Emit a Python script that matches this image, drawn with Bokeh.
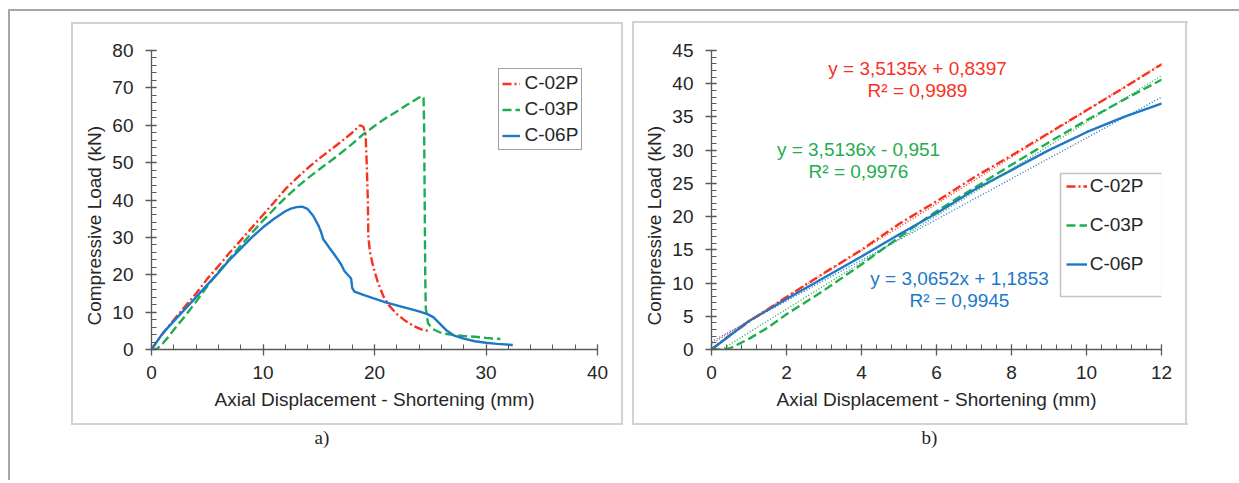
from bokeh.plotting import figure
from bokeh.models import Range1d, SingleIntervalTicker, Label, BoxAnnotation, Legend, LegendItem, Title
from bokeh.layouts import row
from bokeh.embed import file_html
from bokeh.resources import INLINE

# ---------------- data ----------------
series_names = ["C-02P", "C-03P", "C-06P"]

c02p_x = [0, 0.5, 1, 2, 3, 4, 5, 6, 7, 8, 9, 10, 11, 12, 13, 14, 15, 16, 17, 18, 18.7, 19.0, 19.2,
          19.3, 19.4, 19.45, 19.6, 19.9, 20.3, 20.8, 21.3, 22.0, 22.8, 23.5, 24.2, 24.8]
c02p_y = [0, 2.2, 4.2, 7.9, 11.5, 15.0, 18.9, 22.3, 25.9, 29.2, 32.6, 36.0, 39.4, 42.9, 45.8, 48.5,
          51.0, 53.3, 55.6, 58.0, 60.0, 59.6, 57.5, 50.0, 40.0, 30.0, 26.0, 22.0, 18.0, 14.2, 11.8,
          9.5, 7.6, 6.3, 5.4, 5.0]

c03p_x = [0, 0.3, 0.5, 1, 1.5, 2, 3, 4, 5, 6, 7, 8, 9, 10, 11, 12, 13, 14, 15, 16, 17, 18, 19, 20,
          21, 22, 23, 24, 24.2, 24.4, 24.45, 24.5, 24.55, 24.6, 24.8, 25.2, 26, 27, 28, 29, 30, 31.3]
c03p_y = [0, 0, 0.2, 1.6, 3.3, 5.3, 8.9, 12.8, 16.9, 20.8, 24.3, 27.8, 31.2, 34.5, 37.6, 40.6, 43.3,
          45.8, 48.1, 50.3, 52.6, 55.0, 57.6, 59.8, 61.9, 63.7, 65.6, 67.4, 67.9, 67.3, 60.0, 40.0,
          20.0, 11.0, 7.0, 5.5, 4.4, 3.9, 3.6, 3.4, 3.1, 2.8]

c06p_x = [0, 1, 2, 3, 4, 5, 6, 7, 8, 9, 10, 11, 12, 12.5, 13, 13.5, 14, 14.5, 15, 15.2, 15.4, 15.7,
          16, 16.5, 17, 17.3, 17.6, 17.9, 18.0, 18.2, 19, 20, 21, 22, 23, 24, 24.8, 25.3, 25.9, 26.5,
          27.1, 28, 29, 30, 31, 32.4]
c06p_y = [0, 4.3, 7.6, 10.8, 14.0, 17.3, 20.5, 24.0, 27.0, 30.0, 32.7, 35.0, 37.0, 37.7, 38.1, 38.2,
          37.6, 35.8, 33.0, 31.5, 29.5, 28.3, 27.0, 25.0, 22.8, 21.0, 20.0, 19.0, 16.5, 15.5, 14.6,
          13.6, 12.6, 11.8, 11.0, 10.2, 9.4, 8.6, 6.8, 5.0, 3.8, 2.9, 2.2, 1.8, 1.5, 1.2]

# linear trend lines (panel b), end points at x = 0 and x = 12
trend_x = [0, 12]
trend_c02p = [0.8397, 43.0017]
trend_c03p = [-0.951, 41.2122]
trend_c06p = [1.1853, 37.9677]

eq_texts = ["y = 3,5135x + 0,8397", "y = 3,5136x - 0,951", "y = 3,0652x + 1,1853"]
r2_texts = ["R² = 0,9989", "R² = 0,9976", "R² = 0,9945"]

x_title = "Axial Displacement - Shortening (mm)"
y_title = "Compressive Load (kN)"
captions = ["a)", "b)"]

# ---------------- style ----------------
RED, GREEN, BLUE = "#F8321F", "#1FAD4E", "#1E78C8"
AX = "#595959"
TXT = "#262626"
FONT = "Liberation Sans"
FS = "19px"
H = 480
FRAME_C = "#a6a6a6"
BOX_C = "#d2d2d2"


def bg_layers(rects):
    parts = []
    for (x, y, w, h, c) in rects:
        parts.append(f"linear-gradient({c},{c}) {x}px {y}px / {w}px {h}px no-repeat")
    return ", ".join(parts)


def make_fig(width, xr, yr, x_int, y_int, mb_left, mb_right, rects, cap, cap_offset):
    p = figure(width=width, height=H, x_range=Range1d(*xr), y_range=Range1d(*yr),
               output_backend="svg", toolbar_location=None,
               min_border_left=mb_left, min_border_right=mb_right,
               min_border_top=50, min_border_bottom=H - 349,
               styles={"background": bg_layers(rects)})
    p.outline_line_color = None
    p.grid.visible = False
    p.border_fill_color = None
    p.border_fill_alpha = 0.0
    p.background_fill_color = "white"
    p.xaxis.ticker = SingleIntervalTicker(interval=x_int, num_minor_ticks=5)
    p.yaxis.ticker = SingleIntervalTicker(interval=y_int, num_minor_ticks=5)
    for ax in (p.xaxis, p.yaxis):
        ax.axis_line_color = AX
        ax.axis_line_width = 1.3
        ax.major_tick_line_color = AX
        ax.minor_tick_line_color = AX
        ax.major_tick_line_width = 1.3
        ax.minor_tick_line_width = 1.0
        ax.major_tick_in = 5
        ax.major_tick_out = 6
        ax.minor_tick_in = 5
        ax.minor_tick_out = 0
        ax.major_label_text_font = FONT
        ax.major_label_text_font_size = FS
        ax.major_label_text_color = TXT
    p.xaxis.major_label_standoff = 10
    p.yaxis.major_label_standoff = 12
    p.xaxis.axis_label = x_title
    p.xaxis.axis_label_text_font = FONT
    p.xaxis.axis_label_text_font_size = FS
    p.xaxis.axis_label_text_font_style = "normal"
    p.xaxis.axis_label_text_color = TXT
    p.xaxis.axis_label_standoff = 7
    # y title as a side title so that it can be shifted along the axis like the reference
    p.add_layout(Title(text=y_title, align="left", offset=24, standoff=10,
                       text_font=FONT, text_font_size=FS, text_font_style="normal",
                       text_color=TXT), "left")
    p.add_layout(Title(text=cap, align="left", offset=cap_offset, standoff=24,
                       text_font="Liberation Serif", text_font_size="19px",
                       text_font_style="normal", text_color=TXT), "below")
    return p


def cv_label(p, x, y, text, color=TXT):
    p.add_layout(Label(x=x, y=y, x_units="canvas", y_units="canvas", text=text,
                       text_font=FONT, text_font_size=FS, text_color=color,
                       text_align="center", text_baseline="middle"))


# ---------------- panel a (canvas origin = page 0,0) ----------------
rects_a = [(8, 9, 619, 2, FRAME_C), (8, 9, 2, 471, FRAME_C),
           (71, 22, 552, 2, BOX_C), (71, 423, 552, 2, BOX_C),
           (71, 22, 2, 403, BOX_C), (621, 22, 2, 403, BOX_C)]
pa = make_fig(627, (0, 40), (0, 80), 10, 10, 151, 30, rects_a, captions[0], 163)
ra1 = pa.line(c02p_x, c02p_y, line_color=RED, line_width=2.4, line_dash="9 3 2 3")
ra2 = pa.line(c03p_x, c03p_y, line_color=GREEN, line_width=2.4, line_dash="9 4")
ra3 = pa.line(c06p_x, c06p_y, line_color=BLUE, line_width=2.4)
leg_a = Legend(items=[LegendItem(label=n, renderers=[r]) for n, r in zip(series_names, [ra1, ra2, ra3])],
               location=(346.5, 199), padding=3, spacing=4, margin=0,
               glyph_width=18, glyph_height=21, label_height=21, label_standoff=5,
               label_text_font=FONT, label_text_font_size=FS, label_text_color=TXT,
               border_line_color="#404040", border_line_width=1.5,
               background_fill_color="white", background_fill_alpha=1.0)
pa.add_layout(leg_a)

# ---------------- panel b (canvas origin = page 627,0) ----------------
OX = 627
rects_b = [(0, 9, 612, 2, FRAME_C),
           (5, 21, 556, 2, BOX_C), (5, 423, 556, 2, BOX_C),
           (5, 21, 2, 404, BOX_C), (558, 21, 2, 404, BOX_C)]
pb = make_fig(612, (0, 12), (0, 45), 2, 5, 711 - OX, 1239 - 1161, rects_b, captions[1], 210)
rb1 = pb.line(c02p_x, c02p_y, line_color=RED, line_width=2.4, line_dash="9 3 2 3")
rb2 = pb.line(c03p_x, c03p_y, line_color=GREEN, line_width=2.4, line_dash="9 4")
rb3 = pb.line(c06p_x, c06p_y, line_color=BLUE, line_width=2.4)
pb.line(trend_x, trend_c02p, line_color=RED, line_width=1.4, line_dash="1 2")
pb.line(trend_x, trend_c03p, line_color=GREEN, line_width=1.4, line_dash="1 2")
pb.line(trend_x, trend_c06p, line_color=BLUE, line_width=1.4, line_dash="1 2")
leg_b = Legend(items=[LegendItem(label=n, renderers=[r]) for n, r in zip(series_names, [rb1, rb2, rb3])],
               location=(354.7, 74.5), padding=0, spacing=17, margin=0,
               glyph_width=21, glyph_height=22, label_height=22, label_standoff=3,
               label_text_font=FONT, label_text_font_size=FS, label_text_color=TXT,
               border_line_color=None, background_fill_alpha=0.0)
pb.add_layout(leg_b)
pb.add_layout(BoxAnnotation(left=1060 - OX, right=1162 - OX, top=173, bottom=296,
                            left_units="canvas", right_units="canvas",
                            top_units="canvas", bottom_units="canvas",
                            fill_alpha=0.0, line_color="#404040", line_width=1.5, level="overlay"))
for txt, yy in [(eq_texts[0], 68), (r2_texts[0], 90)]:
    cv_label(pb, 917 - OX, yy, txt, color=RED)
for txt, yy in [(eq_texts[1], 149), (r2_texts[1], 171)]:
    cv_label(pb, 858 - OX, yy, txt, color=GREEN)
for txt, yy in [(eq_texts[2], 278), (r2_texts[2], 300)]:
    cv_label(pb, 959 - OX, yy, txt, color=BLUE)

layout = row(pa, pb, spacing=0)
open("out.html", "w").write(file_html(layout, INLINE))
